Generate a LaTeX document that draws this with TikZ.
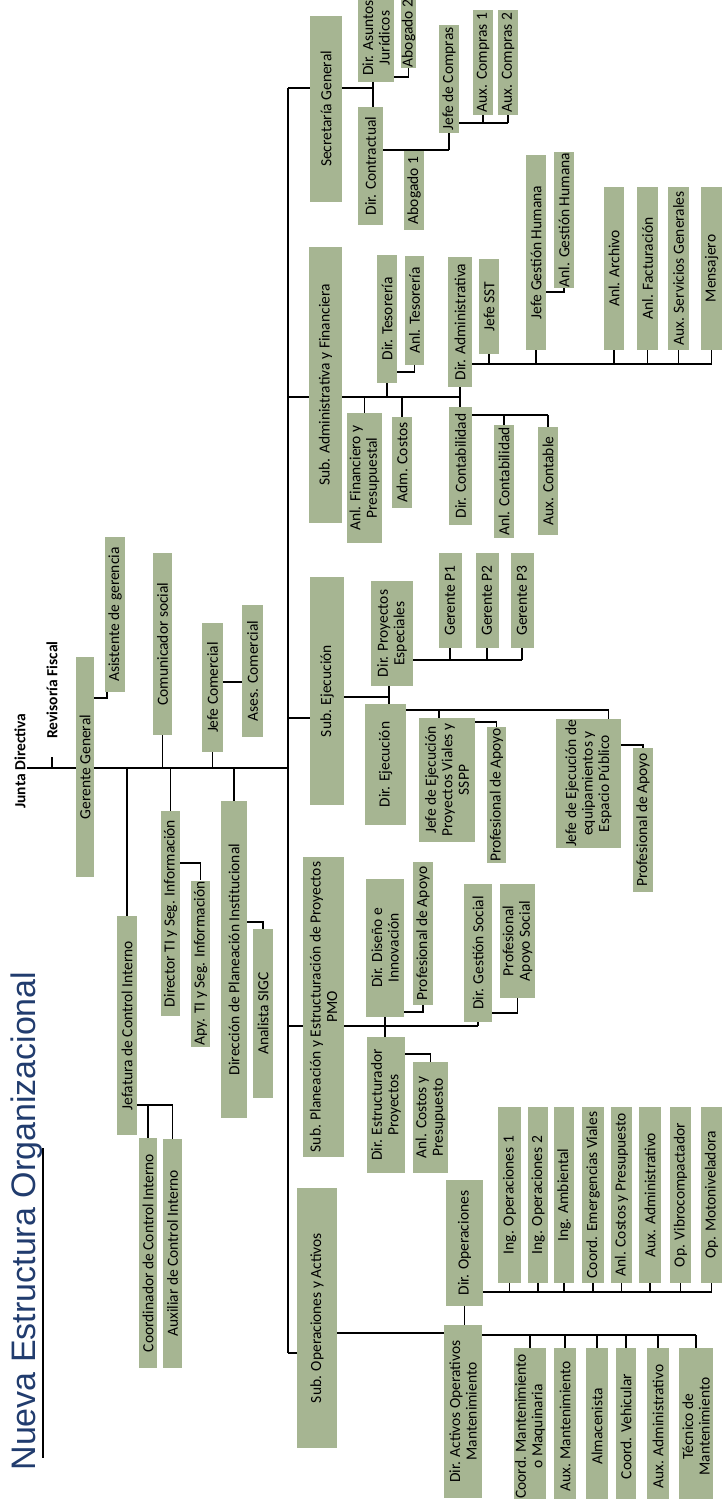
\documentclass[tikz,border=0pt]{standalone}
\usepackage{fontspec}
\setmainfont{Carlito}
\newfontfamily\titulofont{Liberation Sans}
\usetikzlibrary{backgrounds}
\definecolor{cajaverde}{RGB}{166,181,146}
\definecolor{tituloazul}{RGB}{33,60,110}
\newcommand{\cajafont}{\fontsize{15.5}{16.5}\selectfont}

\begin{document}
\begin{tikzpicture}[
    x=1pt, y=-1pt,
    puesto/.style 2 args={rotate=90, fill=cajaverde, minimum width=#1pt, minimum height=#2pt, inner sep=1pt, align=center, font=\cajafont},
    lbl/.style={rotate=90, inner sep=1pt, font=\cajafont\bfseries},
    conn/.style={line width=1.5pt},
  ]
    \useasboundingbox (0,0) rectangle (722,1499);

    % titulo
    \node[rotate=90, anchor=base, text=tituloazul, font=\titulofont\fontsize{34}{36}\selectfont] (titulo) at (35,1221) {Nueva Estructura Organizacional};
    \draw[line width=1.2pt] (43,1148) -- (43,1458);

    % gerencia general
    \node[lbl] (jd) at (20,761) {Junta Directiva};
    \node[lbl] (rf) at (52,690) {Revisoría Fiscal};
    \node[puesto={220}{18}] (gg) at (85,767) {Gerente General};
    \node[puesto={155}{20}] (asis) at (115,614.5) {Asistente de gerencia};
    \node[puesto={182}{19}] (comu) at (162.5,644) {Comunicador social};
    \node[puesto={129}{21}] (jcom) at (212.5,687.5) {Jefe Comercial};
    \node[puesto={132}{21}] (acom) at (252.5,671) {Ases. Comercial};
    \node[puesto={219}{20}] (jci) at (127,1025.5) {Jefatura de Control Interno};
    \node[puesto={230}{18}] (cci) at (148,1253) {Coordinador de Control Interno};
    \node[puesto={229}{19}] (aci) at (172.5,1253.5) {Auxiliar de Control Interno};
    \node[puesto={205}{19}] (dti) at (170.5,913.5) {Director TI y Seg. Información};
    \node[puesto={165}{19}] (ati) at (200.5,963.5) {Apy. TI y Seg. Información};
    \node[puesto={317}{26}] (dpi) at (234,959.5) {Dirección de Planeación Institucional};
    \node[puesto={169}{20}] (sigc) at (263,1013.5) {Analista SIGC};

    % subgerencias
    \node[puesto={186}{32}] (secg) at (326,109) {Secretaría General};
    \node[puesto={276}{33}] (subadm) at (325.5,385) {Sub. Administrativa y Financiera};
    \node[puesto={228}{34}] (subeje) at (327,691) {Sub. Ejecución};
    \node[puesto={300}{41}] (subpla) at (323.5,1007) {Sub. Planeación y Estructuración de Proyectos\\PMO};
    \node[puesto={260}{40}] (subope) at (317,1318) {Sub. Operaciones y Activos};

    % secretaria general
    \node[puesto={88}{36}] (asun) at (376,38) {Dir. Asuntos\\Jurídicos};
    \node[puesto={118}{25}] (contr) at (370.5,166) {Dir. Contractual};
    \node[puesto={67}{15}] (abo2) at (408.5,33.5) {Abogado 2};
    \node[puesto={79}{20}] (abo1) at (414,190.5) {Abogado 1};
    \node[puesto={108}{20}] (jcomp) at (449,79) {Jefe de Compras};
    \node[puesto={105}{20}] (acomp1) at (483,62.5) {Aux. Compras 1};
    \node[puesto={105}{20}] (acomp2) at (508,62.5) {Aux. Compras 2};

    % sub. administrativa y financiera
    \node[puesto={128}{20}] (dtes) at (387,319) {Dir. Tesorería};
    \node[puesto={109}{19}] (ates) at (414.5,310.5) {Anl. Tesorería};
    \node[puesto={130}{35}] (afin) at (364.5,478) {Anl. Financiero y\\Presupuestal};
    \node[puesto={91}{20}] (acos) at (402,462.5) {Adm. Costos};
    \node[puesto={130}{24}] (dadm) at (460,322) {Dir. Administrativa};
    \node[puesto={118}{23}] (dcon) at (460.5,466) {Dir. Contabilidad};
    \node[puesto={95}{20}] (jsst) at (489,306.5) {Jefe SST};
    \node[puesto={195}{20}] (jgh) at (536,252.5) {Jefe Gestión Humana};
    \node[puesto={134}{20}] (agh) at (564,220) {Anl. Gestión Humana};
    \foreach \n/\x/\h/\txt in {aarc/614/20/Anl. Archivo, afac/647.5/21/Anl. Facturación, asg/678.5/21/Aux. Servicios Generales, mens/711.5/21/Mensajero}
      \node[puesto={163}{\h}] (\n) at (\x,268.5) {\txt};
    \node[puesto={113}{20}] (acon) at (504,481.5) {Anl. Contabilidad};
    \node[puesto={108}{20}] (auxc) at (548,481) {Aux. Contable};

    % sub. ejecucion
    \node[puesto={105}{42}] (dpe) at (392,633.5) {Dir. Proyectos\\Especiales};
    \node[puesto={121}{41}] (deje) at (385.5,764.5) {Dir. Ejecución};
    \foreach \n/\x/\txt in {gp1/450/Gerente P1, gp2/487/Gerente P2, gp3/522/Gerente P3}
      \node[puesto={95}{23}] (\n) at (\x,600.5) {\txt};
    \node[puesto={124}{56}] (jev) at (447,780) {Jefe de Ejecución\\Proyectos Viales y\\SSPP};
    \node[puesto={136}{19}] (pa1) at (496.5,795) {Profesional de Apoyo};
    \node[puesto={129}{65}] (jee) at (588.5,783.5) {Jefe de Ejecución de\\equipamientos y\\Espacio Público};
    \node[puesto={144}{20}] (pa2) at (643,820) {Profesional de Apoyo};

    % sub. planeacion
    \node[puesto={138}{38}] (ddi) at (385,948) {Dir. Diseño e\\Innovación};
    \node[puesto={143}{20}] (pa3) at (423,933.5) {Profesional de Apoyo};
    \node[puesto={138}{28}] (dgs) at (478,953) {Dir. Gestión Social};
    \node[puesto={114}{35}] (pas) at (517.5,941) {Profesional\\Apoyo Social};
    \node[puesto={136}{38}] (dep) at (386,1105) {Dir. Estructurador\\Proyectos};
    \node[puesto={111}{35}] (acp) at (430.5,1117.5) {Anl. Costos y\\Presupuesto};

    % sub. operaciones
    \node[puesto={126}{37}] (dop) at (464.5,1243) {Dir. Operaciones};
    \node[puesto={173}{38}] (dao) at (463,1411.5) {Dir. Activos Operativos\\Mantenimiento};
    \foreach \n/\x/\h/\txt in {io1/509.5/23/Ing. Operaciones 1, io2/538/20/Ing. Operaciones 2, iam/564/20/Ing. Ambiental, cev/593/22/Coord. Emergencias Viales, acpo/621.5/21/Anl. Costos y Presupuesto, aad1/650/22/Aux. Administrativo, ovib/680.5/21/Op. Vibrocompactador, omot/711.5/21/Op. Motoniveladora}
      \node[puesto={176}{\h}] (\n) at (\x,1195) {\txt};
    \foreach \n/\x/\h/\txt in {cmm/530/32/{Coord. Mantenimiento\\o Maquinaria}, amt/565/22/Aux. Mantenimiento, alm/597/22/Almacenista, cveh/626/20/Coord. Vehicular, aad2/658/22/Aux. Administrativo, tec/696/34/{Técnico de\\Mantenimiento}}
      \node[puesto={157}{\h}] (\n) at (\x,1426.5) {\txt};

    % niveles de las lineas
    \coordinate (bmain) at (0,768);
    \coordinate (bsub) at (288,0);
    \coordinate (basis) at (0,698);
    \coordinate (bcom) at (0,682);
    \coordinate (bci) at (0,1105);
    \coordinate (bti) at (0,863);
    \coordinate (bsigc) at (0,922);
    \coordinate (bsec) at (0,88);
    \coordinate (bjur) at (373,0);
    \coordinate (babo) at (0,77);
    \coordinate (bctr) at (0,150);
    \coordinate (bcmp) at (0,123);
    \coordinate (badm) at (0,397);
    \coordinate (btes) at (0,372);
    \coordinate (bdadm) at (0,364);
    \coordinate (bgh) at (0,292);
    \coordinate (bdcon) at (0,415);
    \coordinate (bejea) at (0,718);
    \coordinate (bejeb) at (0,697);
    \coordinate (bpe) at (389,0);
    \coordinate (bgp) at (0,660);
    \coordinate (bjef) at (0,710);
    \coordinate (bpa1) at (0,722);
    \coordinate (bpa2) at (0,745);
    \coordinate (bpla) at (0,1026);
    \coordinate (bpa3) at (0,1012);
    \coordinate (bpas) at (0,1013);
    \coordinate (bacp) at (0,1054);
    \coordinate (bope) at (0,1353);
    \coordinate (bdao) at (0,1333);
    \coordinate (bops) at (0,1292);
    \coordinate (bact) at (0,1335);

    \begin{scope}[on background layer]
      \fill[white] (0,0) rectangle (722,1499);

      % gerencia general
      \draw[conn] (jd.south |- bmain) -- (bsub |- bmain);
      \draw[conn, shorten >=17pt] (rf |- bmain) -- (rf.west);
      \draw[conn] (gg |- basis) -| ([xshift=-8pt]asis.center);
      \foreach \n in {comu,jcom,jci,dti,dpi}
        \draw[conn] (\n) -- (\n |- bmain);
      \draw[conn] (jcom |- bcom) -- (acom |- bcom);
      \draw[conn] (jci |- bci) -| (cci);
      \draw[conn] (jci |- bci) -| (aci);
      \draw[conn] (dti |- bti) -| (ati);
      \draw[conn] (dpi |- bsigc) -| (sigc);

      % subgerencias
      \draw[conn] (bsub |- bsec) -- (bsub |- bope);
      \draw[conn] (bsub |- bsec) -- (bjur |- bsec);
      \draw[conn] (bsub |- badm) -- (dadm |- badm);
      \draw[conn] (bsub |- bejea) -- (subeje |- bejea);
      \draw[conn] (bsub |- bpla) -- (dgs |- bpla);
      \draw[conn] (bsub |- bope) -- (subope |- bope);

      % secretaria general
      \draw[conn] (bjur |- asun) -- (bjur |- contr);
      \draw[conn] (asun |- babo) -| (abo2);
      \draw[conn] (contr |- bctr) -- (jcomp |- bctr);
      \foreach \n in {abo1,jcomp}
        \draw[conn] (\n) -- (\n |- bctr);
      \draw[conn] (jcomp |- bcmp) -- (acomp2 |- bcmp);
      \foreach \n in {acomp1,acomp2}
        \draw[conn] (\n) -- (\n |- bcmp);

      % sub. administrativa y financiera
      \foreach \n in {dtes,afin,acos}
        \draw[conn] (\n) -- (\n |- badm);
      \draw[conn] (dadm) -- (dadm |- dcon);
      \draw[conn] (dtes |- btes) -| (ates);
      \draw[conn] (dadm |- bdadm) -- (mens |- bdadm);
      \foreach \n in {jsst,jgh,aarc,afac,asg,mens}
        \draw[conn] (\n) -- (\n |- bdadm);
      \draw[conn] (jgh |- bgh) -| (agh);
      \draw[conn] (dcon |- bdcon) -- (auxc |- bdcon);
      \foreach \n in {acon,auxc}
        \draw[conn] (\n) -- (\n |- bdcon);

      % sub. ejecucion
      \draw[conn] (subeje |- bejeb) -- (bpe |- bejeb);
      \draw[conn] (bpe |- dpe) -- (bpe |- deje);
      \draw[conn] (dpe |- bgp) -- (gp3 |- bgp);
      \foreach \n in {gp1,gp2,gp3}
        \draw[conn] (\n) -- (\n |- bgp);
      \draw[conn] (deje |- bjef) -| ([xshift=20pt]jee.center);
      \draw[conn] (deje |- bjef) -| ([xshift=-8pt]jev.center);
      \draw[conn] (jev |- bpa1) -| (pa1);
      \draw[conn] (jee |- bpa2) -| (pa2);

      % sub. planeacion
      \draw[conn] (ddi) -- (ddi |- dep);
      \draw[conn] (dgs) -- (dgs |- bpla);
      \draw[conn] (ddi |- bpa3) -| (pa3);
      \draw[conn] (dgs |- bpas) -| (pas);
      \draw[conn] (dep |- bacp) -| (acp);

      % sub. operaciones
      \draw[conn] (subope |- bdao) -- (dao |- bdao);
      \draw[conn] (dop) -- (dop |- dao);
      \draw[conn] (dop |- bops) -- (omot |- bops);
      \foreach \n in {io1,io2,iam,cev,acpo,aad1,ovib,omot}
        \draw[conn] (\n) -- (\n |- bops);
      \draw[conn] (dao |- bact) -- (tec |- bact);
      \foreach \n in {cmm,amt,alm,cveh,aad2,tec}
        \draw[conn] (\n) -- (\n |- bact);
    \end{scope}
  \end{tikzpicture}
\end{document}
